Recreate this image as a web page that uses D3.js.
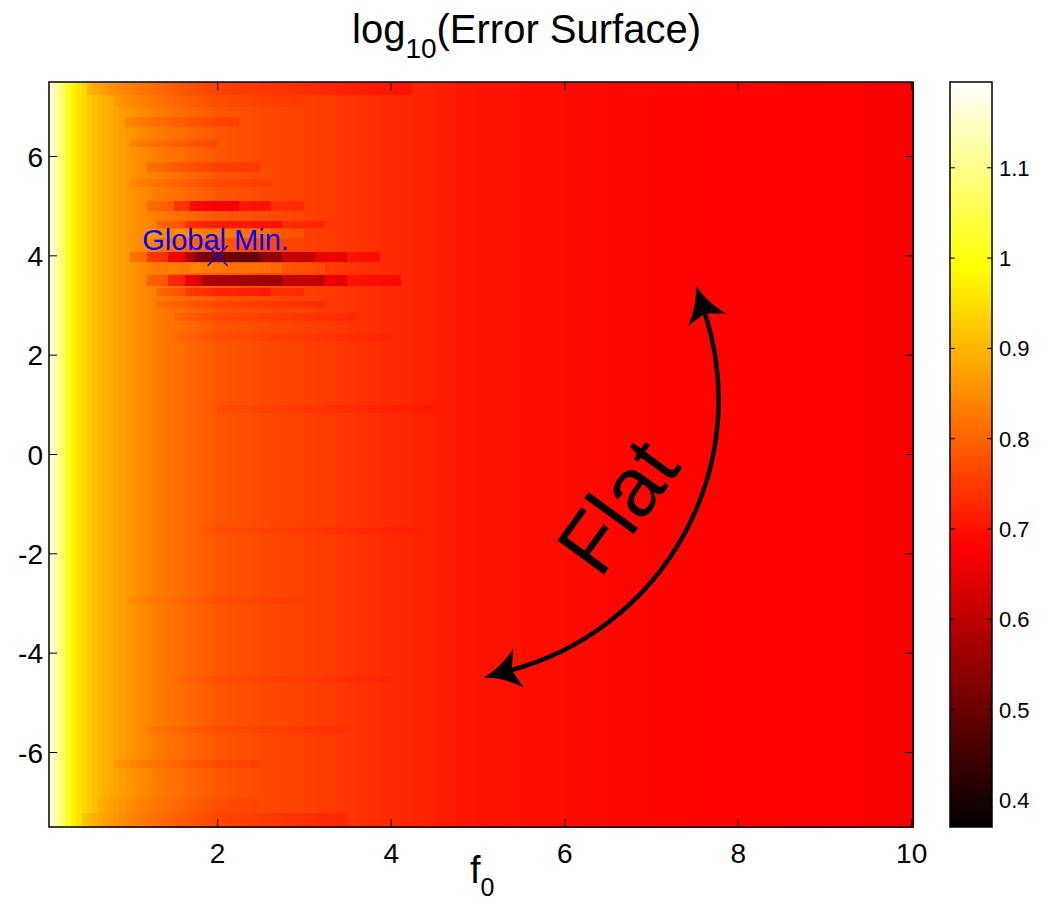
<!DOCTYPE html>
<html>
<head>
<meta charset="utf-8">
<script src="https://cdn.jsdelivr.net/npm/d3@7"></script>
<style>
  body { margin: 0; background: #fff; }
  text { font-family: "Liberation Sans", Arial, sans-serif; }
</style>
</head>
<body>
<svg id="chart" width="1046" height="904"></svg>
<script>
// ---- data ----
// column edges along f0 and the log10 error level of each column (mid rows)
const colEdges = [0.056, 0.118, 0.181, 0.243, 0.306, 0.368, 0.431, 0.493, 0.556, 0.618,
  0.681, 0.743, 0.806, 0.868, 0.931, 0.993, 1.056, 1.118, 1.181, 1.243, 1.306, 1.368,
  1.431, 1.493, 1.556, 1.618, 1.681, 1.743, 1.806, 1.868, 1.931,
  1.993, 2.118, 2.243, 2.368, 2.493, 2.618, 2.743, 2.868, 2.993, 3.118, 3.243, 3.368,
  3.493, 3.618, 3.743, 3.868, 3.993, 4.118, 4.243, 4.368, 4.493, 4.743, 5.0,
  5.5, 6.0, 6.5, 7.0, 7.5, 8.0, 8.5, 9.0, 9.5, 10.015];
const colLevel = [1.163, 1.119, 1.07, 1.02, 0.975, 0.955, 0.94, 0.925, 0.912, 0.902,
  0.893, 0.885, 0.877, 0.870, 0.863, 0.857, 0.851, 0.845, 0.839, 0.834, 0.829, 0.824,
  0.819, 0.814, 0.810, 0.806, 0.802, 0.798, 0.794, 0.790, 0.786,
  0.783, 0.780, 0.777, 0.773, 0.770, 0.766, 0.763, 0.759, 0.756, 0.752, 0.749, 0.745,
  0.742, 0.738, 0.735, 0.732, 0.729, 0.726, 0.723, 0.720, 0.713, 0.706,
  0.700, 0.695, 0.691, 0.688, 0.685, 0.683, 0.681, 0.679, 0.676, 0.671];

// horizontal streaks: [yFrom, yTo, f0From, f0To, change of level]
const streaks = [
  // around the global minimum
  [4.92, 5.12, 1.2, 3.0, -0.03], [4.92, 5.12, 1.5, 2.6, -0.04], [4.92, 5.12, 1.7, 2.3, -0.04],
  [4.58, 4.72, 1.3, 3.3, -0.03], [4.58, 4.72, 1.6, 2.8, -0.04],
  [4.36, 4.56, 1.2, 3.0, 0.02], [4.36, 4.56, 1.5, 2.6, 0.02],
  [3.88, 4.08, 1.0, 3.9, -0.04], [3.88, 4.08, 1.2, 3.5, -0.05], [3.88, 4.08, 1.4, 3.1, -0.06],
  [3.88, 4.08, 1.6, 2.8, -0.07], [3.88, 4.08, 1.75, 2.5, -0.06],
  [3.66, 3.86, 1.4, 3.3, 0.02], [3.66, 3.86, 1.7, 2.8, 0.02],
  [3.41, 3.62, 1.2, 4.1, -0.04], [3.41, 3.62, 1.4, 3.5, -0.05], [3.41, 3.62, 1.6, 3.2, -0.06],
  [3.41, 3.62, 1.8, 2.8, -0.06],
  [3.21, 3.37, 1.3, 3.0, -0.03], [3.21, 3.37, 1.6, 2.6, -0.03],
  // top and bottom edges
  [7.25, 7.5, 0.5, 4.3, -0.025], [7.0, 7.25, 0.8, 3.0, -0.012],
  [-7.5, -7.2, 0.4, 3.5, -0.02], [-7.2, -6.9, 0.6, 2.5, -0.01],
  // faint banding
  [6.6, 6.8, 0.9, 2.2, -0.02], [6.2, 6.35, 1.0, 2.0, -0.02], [5.7, 5.9, 1.2, 2.5, -0.025],
  [5.4, 5.55, 1.0, 2.6, -0.015], [2.95, 3.1, 1.3, 3.2, -0.02], [2.7, 2.85, 1.5, 3.6, -0.015],
  [2.3, 2.45, 1.5, 4.0, -0.01], [0.85, 1.0, 2.0, 4.5, -0.012], [-1.6, -1.45, 1.8, 4.4, -0.01],
  [-3.0, -2.85, 1.0, 3.0, -0.01], [-4.6, -4.45, 1.5, 4.0, -0.01], [-5.6, -5.45, 1.2, 3.5, -0.012],
  [-6.3, -6.15, 0.8, 2.5, -0.015]
];

const xTicks = [2, 4, 6, 8, 10];
const yTicks = [-6, -4, -2, 0, 2, 4, 6];
const cTicks = [0.4, 0.5, 0.6, 0.7, 0.8, 0.9, 1, 1.1];
const cRange = [0.370, 1.195];
const globalMin = [2, 4];
const arrowEnds = [[5.389, -4.338], [7.617, 2.843]];
const flatLabel = [6.6, -1.03];

// ---- layout ----
const svg = d3.select("#chart");
const plot = {left: 49, right: 913, top: 82, bottom: 827};
const cbar = {left: 950, right: 992};

const x = d3.scaleLinear().domain([0.056, 10.015]).range([plot.left, plot.right]);
const y = d3.scaleLinear().domain([-7.5, 7.5]).range([plot.bottom, plot.top]);
const cy = d3.scaleLinear().domain(cRange).range([plot.bottom, plot.top]);
const ct = d3.scaleLinear().domain(cRange).range([0, 1]).clamp(true);

// matlab "hot" colormap
function hot(v) {
  const t = ct(v);
  const r = Math.min(1, t / 0.375);
  const g = Math.max(0, Math.min(1, (t - 0.375) / 0.375));
  const b = Math.max(0, Math.min(1, (t - 0.75) / 0.25));
  return d3.rgb(r * 255, g * 255, b * 255).toString();
}

// rows split at every streak edge
let yCuts = [-7.5, 7.5];
streaks.forEach(s => { yCuts.push(s[0], s[1]); });
yCuts = Array.from(new Set(yCuts)).sort((a, b) => a - b);

const cells = [];
for (let c = 0; c < colLevel.length; c++) {
  const x0 = colEdges[c], x1 = colEdges[c + 1], xm = (x0 + x1) / 2;
  for (let r = 0; r < yCuts.length - 1; r++) {
    const y0 = yCuts[r], y1 = yCuts[r + 1], ym = (y0 + y1) / 2;
    let v = colLevel[c];
    streaks.forEach(s => {
      if (ym > s[0] && ym < s[1] && xm >= s[2] && xm <= s[3]) v += s[4];
    });
    cells.push({x0, x1, y0, y1, v});
  }
}

const gMap = svg.append("g");
gMap.selectAll("rect")
  .data(cells)
  .enter()
  .append("rect")
  .attr("x", d => x(d.x0))
  .attr("y", d => y(d.y1))
  .attr("width", d => x(d.x1) - x(d.x0) + 0.5)
  .attr("height", d => y(d.y0) - y(d.y1) + 0.5)
  .attr("fill", d => hot(d.v))
  .attr("shape-rendering", "crispEdges");

// axes frame + inward ticks on all sides
const gAx = svg.append("g");
gAx.append("rect")
  .attr("x", plot.left).attr("y", plot.top)
  .attr("width", plot.right - plot.left).attr("height", plot.bottom - plot.top)
  .attr("fill", "none").attr("stroke", "#000").attr("stroke-width", 1.5);

const tickLen = 8;
xTicks.forEach(t => {
  gAx.append("line").attr("x1", x(t)).attr("x2", x(t))
    .attr("y1", plot.bottom).attr("y2", plot.bottom - tickLen).attr("stroke", "#000");
  gAx.append("line").attr("x1", x(t)).attr("x2", x(t))
    .attr("y1", plot.top).attr("y2", plot.top + tickLen).attr("stroke", "#000");
  gAx.append("text").attr("x", x(t)).attr("y", 863)
    .attr("text-anchor", "middle").attr("font-size", 28).text(t);
});
yTicks.forEach(t => {
  gAx.append("line").attr("x1", plot.left).attr("x2", plot.left + tickLen)
    .attr("y1", y(t)).attr("y2", y(t)).attr("stroke", "#000");
  gAx.append("line").attr("x1", plot.right).attr("x2", plot.right - tickLen)
    .attr("y1", y(t)).attr("y2", y(t)).attr("stroke", "#000");
  gAx.append("text").attr("x", 43).attr("y", y(t) + 10)
    .attr("text-anchor", "end").attr("font-size", 28).text(t);
});

// colorbar, one band per pixel row
const gC = svg.append("g");
const bandRows = d3.range(plot.top, plot.bottom);
gC.selectAll("rect.band")
  .data(bandRows)
  .enter()
  .append("rect")
  .attr("class", "band")
  .attr("x", cbar.left)
  .attr("y", d => d)
  .attr("width", cbar.right - cbar.left)
  .attr("height", 1)
  .attr("shape-rendering", "crispEdges")
  .attr("fill", d => hot(cy.invert(d + 0.5)));
gC.append("rect")
  .attr("x", cbar.left).attr("y", plot.top)
  .attr("width", cbar.right - cbar.left).attr("height", plot.bottom - plot.top)
  .attr("fill", "none").attr("stroke", "#000").attr("stroke-width", 1.5);
cTicks.forEach(t => {
  gC.append("line").attr("x1", cbar.left).attr("x2", cbar.left + 5)
    .attr("y1", cy(t)).attr("y2", cy(t)).attr("stroke", "#000");
  gC.append("line").attr("x1", cbar.right).attr("x2", cbar.right - 5)
    .attr("y1", cy(t)).attr("y2", cy(t)).attr("stroke", "#000");
  gC.append("text").attr("x", 999).attr("y", cy(t) + 8)
    .attr("font-size", 22).text(t);
});

// title
const title = svg.append("text").attr("x", 352).attr("y", 43).attr("font-size", 40);
title.append("tspan").text("log");
title.append("tspan").attr("font-size", 28).attr("dy", 15).text("10");
title.append("tspan").attr("dy", -15).text("(Error Surface)");

// x label
const xl = svg.append("text").attr("x", 470).attr("y", 883).attr("font-size", 38);
xl.append("tspan").text("f");
xl.append("tspan").attr("font-size", 25).attr("dy", 13).text("0");

// global minimum marker
const gm = svg.append("g").attr("stroke", "#0000ff").attr("stroke-width", 1.3);
gm.append("line").attr("x1", x(globalMin[0]) - 10).attr("x2", x(globalMin[0]) + 10)
  .attr("y1", y(globalMin[1]) - 10).attr("y2", y(globalMin[1]) + 10);
gm.append("line").attr("x1", x(globalMin[0]) - 10).attr("x2", x(globalMin[0]) + 10)
  .attr("y1", y(globalMin[1]) + 10).attr("y2", y(globalMin[1]) - 10);
svg.append("text")
  .attr("x", x(1.13)).attr("y", y(4.12))
  .attr("font-size", 29).attr("fill", "#0000ff")
  .text("Global Min.");

// curved double arrow + "Flat"
const defs = svg.append("defs");
defs.append("marker")
  .attr("id", "head")
  .attr("markerUnits", "userSpaceOnUse")
  .attr("viewBox", "-10 -22 42 44")
  .attr("markerWidth", 42).attr("markerHeight", 44)
  .attr("refX", 0).attr("refY", 0)
  .attr("orient", "auto-start-reverse")
  .append("path")
  .attr("d", "M29,0 Q10,-5 -7,-20 L0,0 L-7,20 Q10,5 29,0 Z")
  .attr("fill", "#000");

const p0 = [x(arrowEnds[0][0]), y(arrowEnds[0][1])];
const p1 = [x(arrowEnds[1][0]), y(arrowEnds[1][1])];
svg.append("path")
  .attr("d", `M${p0[0]},${p0[1]} A280,280 0 0 0 ${p1[0]},${p1[1]}`)
  .attr("fill", "none").attr("stroke", "#000").attr("stroke-width", 4.5)
  .attr("marker-start", "url(#head)").attr("marker-end", "url(#head)");

svg.append("text")
  .attr("transform", `translate(${x(flatLabel[0])},${y(flatLabel[1])}) rotate(-54)`)
  .attr("text-anchor", "middle").attr("dy", "0.36em")
  .attr("font-size", 84)
  .text("Flat");
</script>
</body>
</html>
